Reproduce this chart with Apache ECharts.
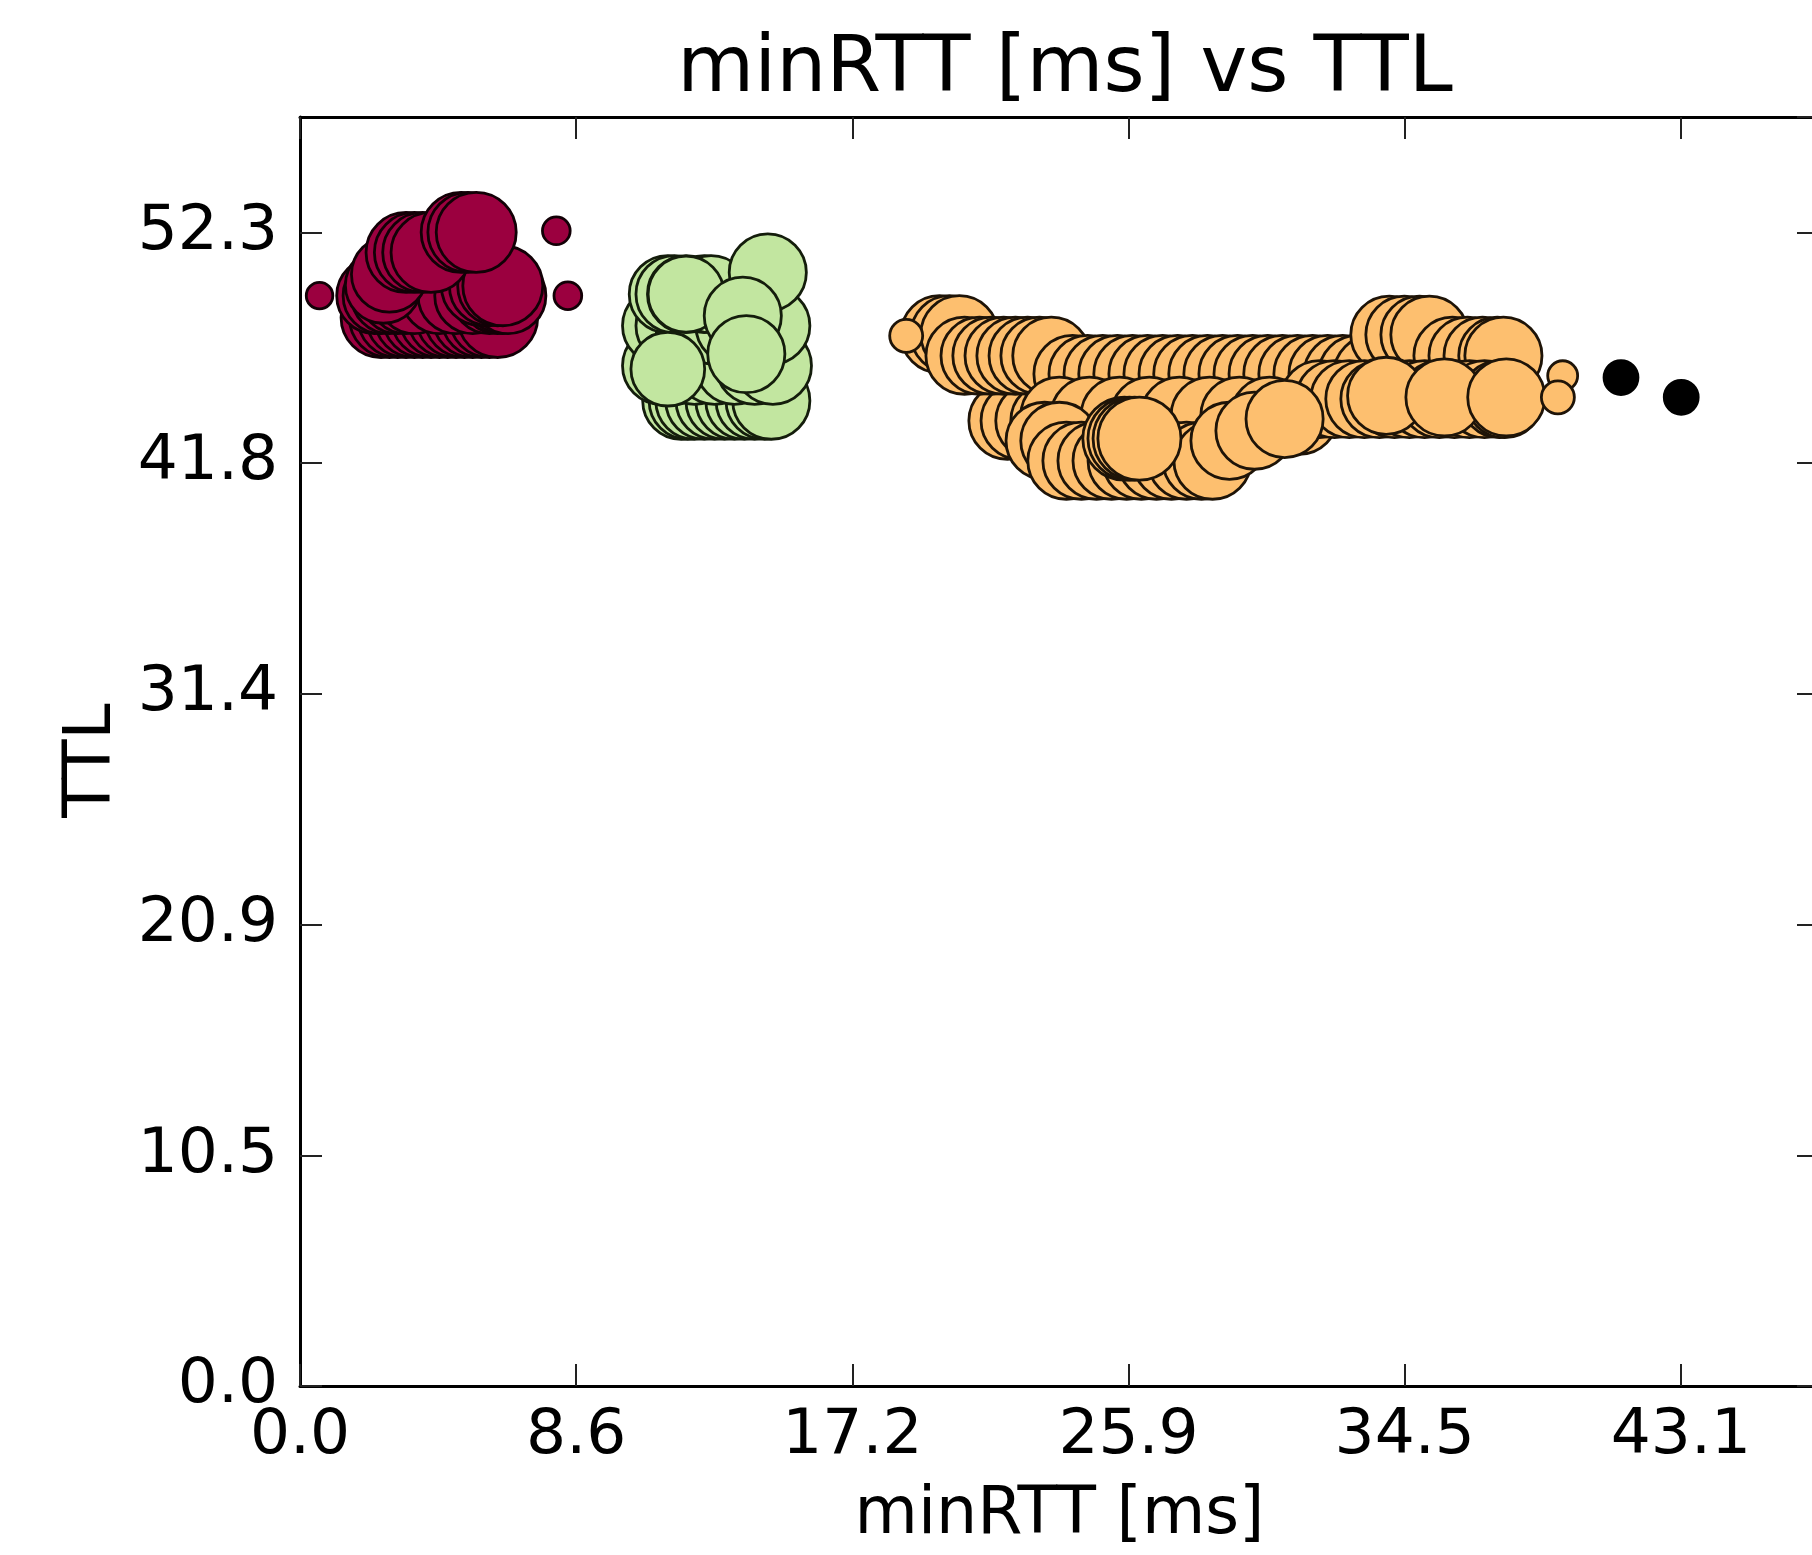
<!DOCTYPE html>
<html>
<head>
<meta charset="utf-8">
<title>minRTT [ms] vs TTL</title>
<script src="https://cdn.jsdelivr.net/npm/echarts@6/dist/echarts.min.js"></script>
<style>
    html, body { margin: 0; padding: 0; background: #fff; }
    #container { width: 1812px; height: 1555px; }
</style>
</head>
<body>
<div id="container"></div>
<script>
// cluster 1 (red)
var redRTT = [
    2.53, 2.79, 3.05, 3.31, 3.57, 3.83, 4.09, 4.35, 4.61, 4.87, 5.13, 5.39, 5.66, 5.91, 6.17,
    2.33, 2.53, 2.79, 3.05, 3.31, 3.57, 4.35, 4.87, 5.39, 5.91, 6.17, 6.33, 6.49,
    2.60, 2.79,
    5.66, 5.91, 6.17, 6.33,
    3.31, 3.57, 3.83, 4.09,
    5.03, 5.24, 5.50,
    0.61, 8.00, 8.36
];
var redTTL = [
    48.44, 48.44, 48.44, 48.44, 48.44, 48.44, 48.44, 48.44, 48.44, 48.44, 48.44, 48.44, 48.44, 48.44, 48.44,
    49.43, 49.43, 49.43, 49.43, 49.43, 49.43, 49.43, 49.43, 49.43, 49.43, 49.43, 49.43, 49.43,
    49.90, 50.40,
    49.88, 49.88, 49.88, 49.88,
    51.39, 51.39, 51.39, 51.39,
    52.30, 52.30, 52.30,
    49.43, 52.37, 49.43
];
var redCount = [
    100, 100, 100, 100, 100, 100, 100, 100, 100, 100, 100, 100, 100, 100, 100,
    90, 90, 90, 90, 90, 90, 90, 90, 90, 90, 90, 90, 90,
    90, 90,
    100, 100, 100, 100,
    100, 100, 100, 100,
    100, 100, 100,
    11, 12, 12
];

// cluster 2 (green)
var greenRTT = [
    11.90, 12.10, 12.31, 12.62, 12.94, 13.25, 13.56, 13.87, 14.19, 14.50, 14.71,
    11.27, 11.69, 12.31, 12.94, 13.56, 14.19, 14.76,
    11.27, 11.69, 12.31, 12.94, 13.56, 14.19, 14.71,
    11.48, 11.69, 12.05, 12.62, 12.83,
    11.48, 14.60, 12.05, 13.82, 13.93
];
var greenTTL = [
    44.67, 44.67, 44.67, 44.67, 44.67, 44.67, 44.67, 44.67, 44.67, 44.67, 44.67,
    46.25, 46.25, 46.25, 46.25, 46.25, 46.25, 46.25,
    48.07, 48.07, 48.07, 48.07, 48.07, 48.07, 48.07,
    49.50, 49.50, 49.50, 49.50, 49.50,
    46.10, 50.48, 49.50, 48.52, 46.78
];
var greenCount = [
    93, 93, 93, 93, 93, 93, 93, 93, 93, 93, 93,
    93, 93, 93, 93, 93, 93, 93,
    93, 93, 93, 93, 93, 93, 93,
    93, 93, 93, 93, 93,
    85, 93, 90, 93, 93
];

// cluster 3 (orange)
var orangeRTT = [
    22.08, 22.46, 22.92, 23.39,
    19.96, 20.27, 20.58,
    20.74, 21.21, 21.58, 21.96, 22.33, 22.71, 23.08, 23.45,
    24.11, 24.58, 25.05, 25.51, 25.98, 26.45, 26.92, 27.39, 27.85, 28.32, 28.79, 29.26, 29.73, 30.20, 30.66, 31.13, 31.60, 32.07, 32.54, 33.00, 33.47,
    34.00, 34.47, 34.94, 35.25,
    35.97, 36.44, 36.91, 37.37, 37.56,
    23.70, 24.64, 25.58, 26.51, 27.45, 28.39, 29.32, 30.26, 31.19,
    23.24, 23.70,
    23.92, 24.39, 24.86, 25.33, 25.80, 26.26, 26.73, 27.20, 27.67, 28.14, 28.48,
    29.01, 29.79,
    31.82, 32.29, 32.75, 33.22, 33.69, 34.16, 34.63, 35.10, 35.56, 36.03, 36.50, 36.97, 37.44, 37.59,
    30.73, 33.90, 35.72, 37.65,
    25.73, 25.89, 26.05, 26.20,
    18.92, 39.41, 39.26
];
var orangeTTL = [
    43.76, 43.76, 43.76, 43.76,
    47.68, 47.68, 47.68,
    46.71, 46.71, 46.71, 46.71, 46.71, 46.71, 46.71, 46.71,
    45.88, 45.88, 45.88, 45.88, 45.88, 45.88, 45.88, 45.88, 45.88, 45.88, 45.88, 45.88, 45.88, 45.88, 45.88, 45.88, 45.88, 45.88, 45.88, 45.88, 45.88,
    47.66, 47.66, 47.66, 47.66,
    46.71, 46.71, 46.71, 46.71, 46.71,
    43.99, 43.99, 43.99, 43.99, 43.99, 43.99, 43.99, 43.99, 43.99,
    42.85, 42.85,
    41.95, 41.95, 41.95, 41.95, 41.95, 41.95, 41.95, 41.95, 41.95, 41.95, 41.95,
    42.85, 43.31,
    44.74, 44.74, 44.74, 44.74, 44.74, 44.74, 44.74, 44.74, 44.74, 44.74, 44.74, 44.74, 44.74, 44.74,
    43.84, 44.89, 44.82, 44.82,
    42.95, 42.95, 42.95, 42.95,
    47.61, 45.80, 44.82
];
var orangeCount = [
    93, 93, 93, 93,
    93, 93, 93,
    93, 93, 93, 93, 93, 93, 93, 93,
    93, 93, 93, 93, 93, 93, 93, 93, 93, 93, 93, 93, 93, 93, 93, 93, 93, 93, 93, 93, 93,
    93, 93, 93, 93,
    93, 93, 93, 93, 93,
    93, 93, 93, 93, 93, 93, 93, 93, 93,
    93, 93,
    93, 93, 93, 93, 93, 93, 93, 93, 93, 93, 93,
    93, 93,
    93, 93, 93, 93, 93, 93, 93, 93, 93, 93, 93, 93, 93, 93,
    93, 93, 93, 93,
    108, 108, 108, 108,
    17, 14, 17
];

// cluster 4 (black)
var blackRTT = [41.23, 43.11];
var blackTTL = [45.72, 44.82];
var blackCount = [18, 18];

// axis ticks
var xStep = 8.62, xMax = 47.41;
var yStep = 10.46, yMax = 57.53;

var font = 'DejaVu Sans';

function points(xs, ys, cs) {
    return xs.map(function (x, i) { return [x, ys[i], cs[i]]; });
}

function bubble(xs, ys, cs, color, edge) {
    return {
        type: 'scatter',
        data: points(xs, ys, cs),
        symbolSize: function (v) { return 8 * Math.sqrt(v[2]); },
        itemStyle: { color: color, borderColor: edge, borderWidth: 2.8, opacity: 1 },
        emphasis: { disabled: true },
        silent: true
    };
}

function xAxisDef(pos) {
    var bottom = pos === 'bottom';
    return {
        type: 'value', position: pos, min: 0, max: xMax, interval: xStep,
        axisLine: { show: true, onZero: false, lineStyle: { color: '#000', width: 3 } },
        axisTick: { show: true, inside: true, length: 22, lineStyle: { color: '#222', width: 2 } },
        axisLabel: {
            show: bottom, fontSize: 63, color: '#000', fontFamily: font, margin: 19,
            showMaxLabel: false,
            formatter: function (v) { return v.toFixed(1); }
        },
        splitLine: { show: false },
        name: bottom ? 'minRTT [ms]' : '',
        nameLocation: 'middle', nameGap: 98, nameMoveOverlap: false,
        nameTextStyle: { fontSize: 65, color: '#000', fontFamily: font }
    };
}

function yAxisDef(pos) {
    var left = pos === 'left';
    return {
        type: 'value', position: pos, min: 0, max: yMax, interval: yStep,
        axisLine: { show: true, onZero: false, lineStyle: { color: '#000', width: 3 } },
        axisTick: { show: true, inside: true, length: 22, lineStyle: { color: '#222', width: 2 } },
        axisLabel: {
            show: left, fontSize: 63, color: '#000', fontFamily: font, margin: 22,
            showMaxLabel: false,
            formatter: function (v) { return v.toFixed(1); }
        },
        splitLine: { show: false },
        name: left ? 'TTL' : '',
        nameLocation: 'middle', nameGap: 174, nameRotate: 90, nameMoveOverlap: false,
        nameTextStyle: { fontSize: 65, color: '#000', fontFamily: font, padding: [0, 18, 0, 0] }
    };
}

var myChart = echarts.init(document.getElementById('container'));
var option = {
    animation: false,
    backgroundColor: '#fff',
    title: {
        text: 'minRTT [ms] vs TTL',
        left: 1060, top: 26, textAlign: 'center',
        textStyle: { fontSize: 79, fontWeight: 'normal', color: '#000', fontFamily: font }
    },
    grid: { left: 300, top: 117, width: 1519, height: 1269, containLabel: false, outerBoundsMode: 'none' },
    xAxis: [xAxisDef('bottom'), xAxisDef('top')],
    yAxis: [yAxisDef('left'), yAxisDef('right')],
    series: [
        bubble(redRTT, redTTL, redCount, '#9b003f', '#120006'),
        bubble(greenRTT, greenTTL, greenCount, '#c2e6a0', '#141d0c'),
        bubble(orangeRTT, orangeTTL, orangeCount, '#fdbf6f', '#1e1408'),
        bubble(blackRTT, blackTTL, blackCount, '#000', '#000')
    ]
};
myChart.setOption(option);
</script>
</body>
</html>
